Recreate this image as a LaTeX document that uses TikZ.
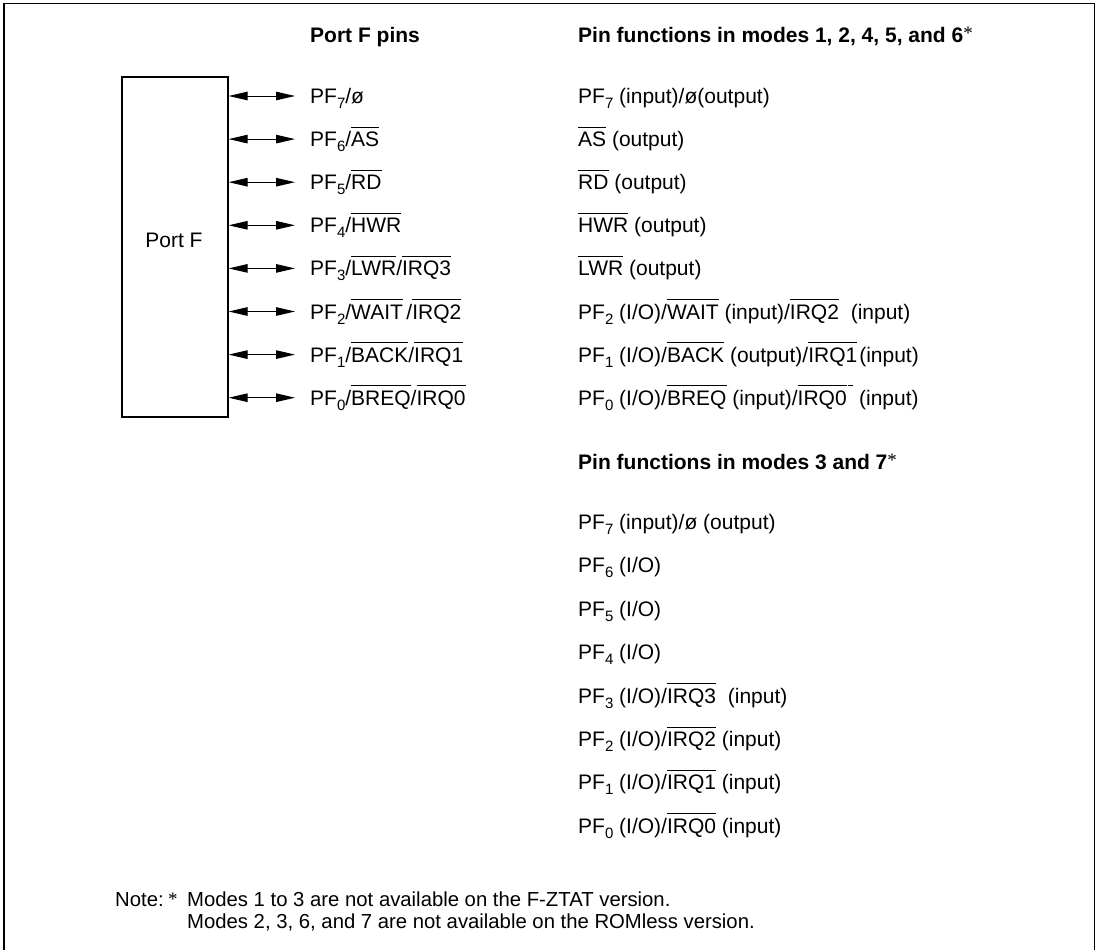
\documentclass[tikz,border=0pt]{standalone}
\usepackage{fontspec}
\setmainfont{Liberation Sans}
\newfontfamily\serifast{Liberation Serif}
\usetikzlibrary{arrows.meta}
\newcommand{\ovl}[1]{\setbox0\hbox{#1}\rlap{\rule[19pt]{\wd0}{0.9pt}}\box0\relax}
\newcommand{\pfs}[1]{\raisebox{-5pt}{\fontsize{15}{15}\selectfont #1}}
\newcommand{\fnast}{\raisebox{3pt}{\serifast\mdseries\fontsize{19}{19}\selectfont *}}
\newcommand{\noteast}{\raisebox{1pt}{\serifast\mdseries\fontsize{19}{19}\selectfont *}}
\tikzset{
  txt/.style={anchor=base west, inner sep=0pt, font=\fontsize{21}{25}\selectfont},
  hd/.style={anchor=base west, inner sep=0pt, font=\bfseries\fontsize{21}{25}\selectfont},
  notetxt/.style={anchor=base west, inner sep=0pt, font=\fontsize{20.3}{22}\selectfont},
  pinarrow/.style={{Triangle[length=19pt,width=8.5pt]}-{Triangle[length=19pt,width=8.5pt]}, line width=1pt},
  portbox/.style={draw, line width=1.2pt, minimum width=106pt, minimum height=340pt, inner sep=0pt}
}
\begin{document}
\begin{tikzpicture}[x=1pt,y=-1pt]
\useasboundingbox (0,0) rectangle (1098,950);
\draw[line width=1.4pt] (4,950) -- (4,3.8) -- (1094.5,3.8) -- (1094.5,950);

% headings
\node[hd] (h1) at (310,42.5) {Port F pins};
\node[hd] (h2) at (578,42.5) {Pin functions in modes 1, 2, 4, 5, and 6\fnast};
\node[hd] (h3) at (578,469.5) {Pin functions in modes 3 and 7\fnast};

% port box
\node[portbox] (port) at (175,247) {};
\node[txt, anchor=base] (plbl) at (174,247.5) {Port F};

% left pins
\foreach \i/\lab in {
  0/{PF\pfs{7}/ø},
  1/{PF\pfs{6}/\ovl{AS}},
  2/{PF\pfs{5}/\ovl{RD}},
  3/{PF\pfs{4}/\ovl{HWR}},
  4/{PF\pfs{3}/\ovl{LWR}/\ovl{IRQ3}},
  5/{PF\pfs{2}/\ovl{WAIT}\,/\ovl{IRQ2}},
  6/{PF\pfs{1}/\ovl{BACK}/\ovl{IRQ1}},
  7/{PF\pfs{0}/\ovl{BREQ}/\ovl{IRQ0}}}{
  \coordinate (a\i) at (295,96+43.1*\i);
  \draw[pinarrow] (port.east |- a\i) -- (a\i);
  \node[txt] (l\i) at (310,103.5+43.1*\i) {\lab};
}

% right upper
\foreach \i/\lab in {
  0/{PF\pfs{7} (input)/ø(output)},
  1/{\ovl{AS} (output)},
  2/{\ovl{RD} (output)},
  3/{\ovl{HWR} (output)},
  4/{\ovl{LWR} (output)},
  5/{PF\pfs{2} (I/O)/\ovl{WAIT} (input)/\ovl{IRQ2}\hspace{6pt} (input)},
  6/{PF\pfs{1} (I/O)/\ovl{BACK} (output)/\ovl{IRQ1}\hspace{2pt}(input)},
  7/{PF\pfs{0} (I/O)/\ovl{BREQ} (input)/\ovl{IRQ0}\hspace{1.5pt}\ovl{\hspace{5pt}} (input)}}{
  \node[txt] (r\i) at (578,103.5+43.1*\i) {\lab};
}

% right lower
\foreach \i/\lab in {
  0/{PF\pfs{7} (input)/ø (output)},
  1/{PF\pfs{6} (I/O)},
  2/{PF\pfs{5} (I/O)},
  3/{PF\pfs{4} (I/O)},
  4/{PF\pfs{3} (I/O)/\ovl{IRQ3}\hspace{6pt} (input)},
  5/{PF\pfs{2} (I/O)/\ovl{IRQ2} (input)},
  6/{PF\pfs{1} (I/O)/\ovl{IRQ1} (input)},
  7/{PF\pfs{0} (I/O)/\ovl{IRQ0} (input)}}{
  \node[txt] (s\i) at (578,529.5+43.4*\i) {\lab};
}

% note
\node[notetxt] (n0) at (115,906.5) {Note:};
\node[notetxt] (n1) at (168,906.5) {\noteast};
\node[notetxt] (n2) at (187,906.5) {Modes 1 to 3 are not available on the F-ZTAT version.};
\node[notetxt] (n3) at (187,928) {Modes 2, 3, 6, and 7 are not available on the ROMless version.};
\end{tikzpicture}
\end{document}
